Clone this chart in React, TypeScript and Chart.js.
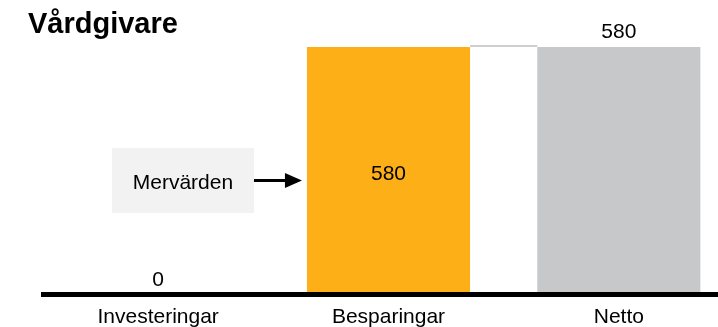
import React, { useEffect, useRef } from 'react';
import { Chart, registerables } from 'chart.js';

Chart.register(...registerables);

// Chart content
const TITLE = 'Vårdgivare';
const categories = ['Investeringar', 'Besparingar', 'Netto'];
const values = [0, 580, 580];
const calloutText = 'Mervärden';

// Styling
const barColors = ['#FCAF17', '#FCAF17', '#C7C8CA'];
const labelInside = [false, true, false];
const FONT = '"Liberation Sans", Arial, Helvetica, sans-serif';

const annotations = {
  id: 'annotations',
  afterDraw(chart: any) {
    const ctx: CanvasRenderingContext2D = chart.ctx;
    const bars = chart.getDatasetMeta(0).data.map((el: any) =>
      el.getProps(['x', 'y', 'base', 'width'], true)
    );
    ctx.save();

    // Title
    ctx.fillStyle = '#000';
    ctx.font = `bold 29px ${FONT}`;
    ctx.textAlign = 'left';
    ctx.textBaseline = 'alphabetic';
    ctx.fillText(TITLE, 28, 33);

    // Connector from the savings bar to the net bar
    const a = bars[1];
    const b = bars[2];
    ctx.strokeStyle = '#CFCFCF';
    ctx.lineWidth = 2;
    ctx.beginPath();
    ctx.moveTo(a.x + a.width / 2, a.y - 1);
    ctx.lineTo(b.x - b.width / 2, b.y - 1);
    ctx.stroke();

    // Value labels
    ctx.fillStyle = '#000';
    ctx.font = `21px ${FONT}`;
    ctx.textAlign = 'center';
    values.forEach((v, i) => {
      const bar = bars[i];
      if (labelInside[i]) {
        ctx.fillText(String(v), bar.x, (bar.y + bar.base) / 2 + 9);
      } else {
        ctx.fillText(String(v), bar.x, bar.y - 9);
      }
    });

    // Callout box with arrow pointing at the savings bar
    const arrowTip = a.x - a.width / 2 - 5;
    const boxRight = arrowTip - 48;
    const boxWidth = 142;
    const boxLeft = boxRight - boxWidth;
    const boxTop = 148;
    const boxHeight = 65;
    const midY = boxTop + boxHeight / 2;

    ctx.fillStyle = '#F2F2F2';
    ctx.fillRect(boxLeft, boxTop, boxWidth, boxHeight);
    ctx.fillStyle = '#000';
    ctx.fillText(calloutText, boxLeft + boxWidth / 2, midY + 8.5);

    ctx.strokeStyle = '#000';
    ctx.lineWidth = 3;
    ctx.beginPath();
    ctx.moveTo(boxRight, midY);
    ctx.lineTo(arrowTip - 14, midY);
    ctx.stroke();
    ctx.beginPath();
    ctx.moveTo(arrowTip - 17, midY - 7.5);
    ctx.lineTo(arrowTip, midY);
    ctx.lineTo(arrowTip - 17, midY + 7.5);
    ctx.closePath();
    ctx.fill();

    ctx.restore();
  },
};

export default function App() {
  const canvasRef = useRef<HTMLCanvasElement | null>(null);

  useEffect(() => {
    const canvas = canvasRef.current;
    if (!canvas) return;
    const chart = new Chart(canvas, {
      type: 'bar',
      data: {
        labels: categories,
        datasets: [
          {
            data: values,
            backgroundColor: barColors,
            borderWidth: 0,
            categoryPercentage: 1,
            barPercentage: 0.708,
          },
        ],
      },
      options: {
        responsive: false,
        animation: false,
        devicePixelRatio: 1,
        layout: { padding: { left: 43, right: 6, top: 47, bottom: 0 } },
        plugins: {
          legend: { display: false },
          tooltip: { enabled: false },
          title: { display: false },
        },
        scales: {
          x: {
            grid: { display: false, drawTicks: false },
            border: { display: true, color: '#000', width: 5, z: 1 },
            ticks: {
              color: '#000',
              font: { family: FONT, size: 21 },
              padding: 10,
              maxRotation: 0,
              autoSkip: false,
            },
            afterFit(scale: any) {
              scale.height = 32.5;
            },
          },
          y: { display: false, min: 0, max: 580 },
        },
      },
      plugins: [annotations],
    });
    return () => chart.destroy();
  }, []);

  return (
    <div
      style={{
        position: 'fixed',
        left: 0,
        top: 0,
        width: 718,
        height: 327,
        overflow: 'hidden',
        background: '#fff',
      }}
    >
      <canvas ref={canvasRef} width={740} height={327} style={{ display: 'block' }} />
    </div>
  );
}
